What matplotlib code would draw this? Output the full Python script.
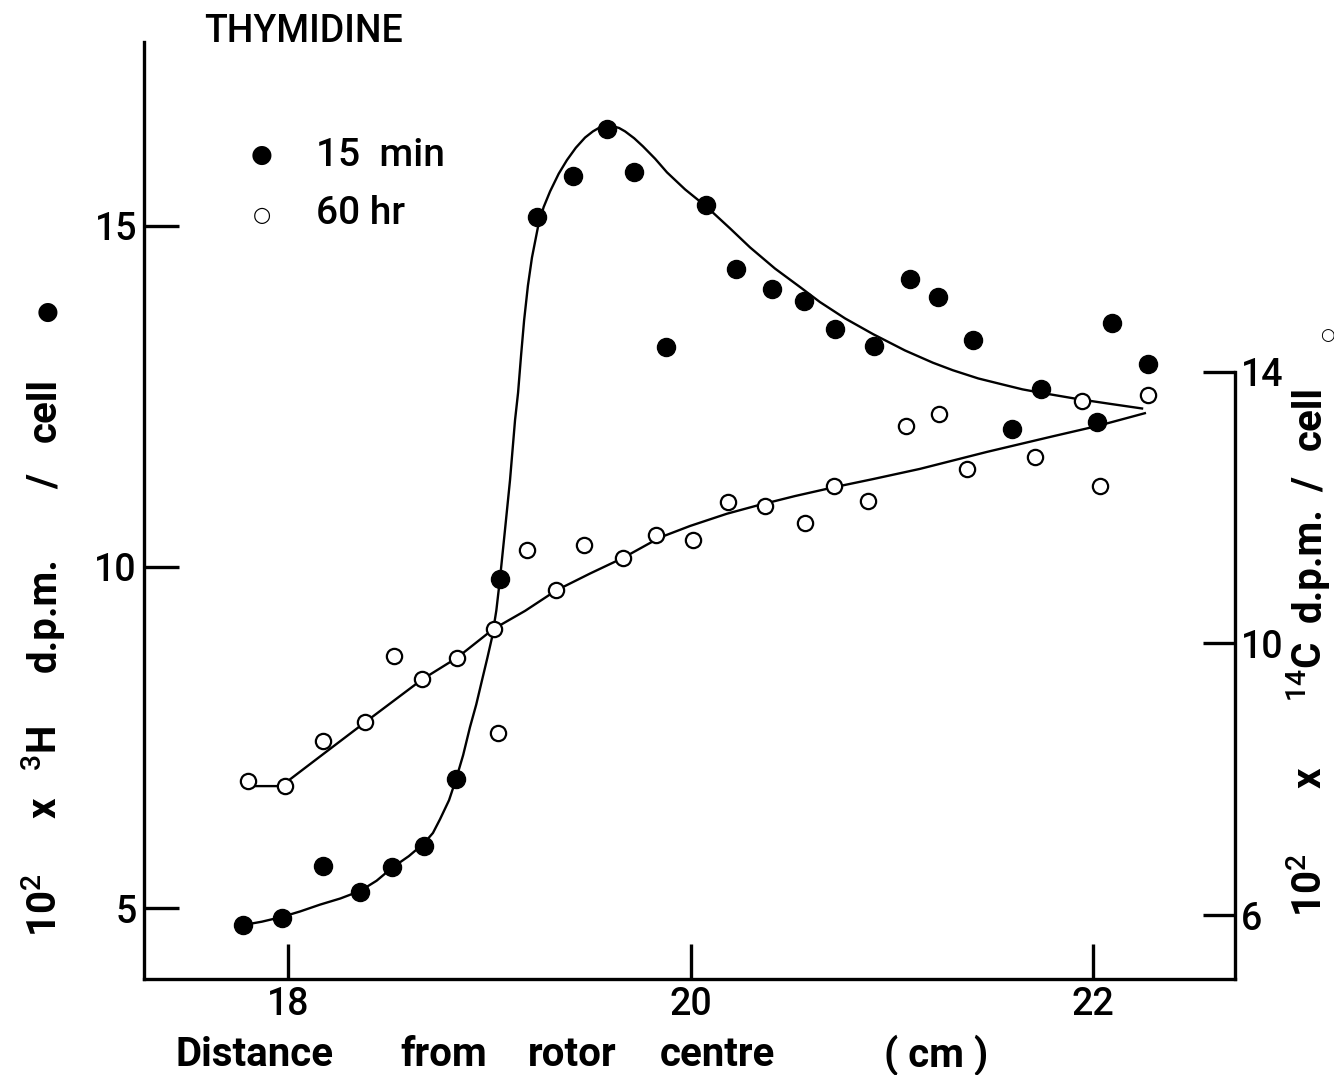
import matplotlib
matplotlib.use("Agg")
import matplotlib.pyplot as plt

plt.rcParams['font.family'] = ['Roboto', 'DejaVu Sans']
plt.rcParams['font.weight'] = 'medium'
plt.rcParams['mathtext.fontset'] = 'custom'
plt.rcParams['mathtext.rm'] = 'Roboto:medium'

# 15 min (3H, left axis), filled circles
dist_15min = [17.776, 17.970, 18.174, 18.358, 18.517, 18.676, 18.835, 19.053,
              19.237, 19.416, 19.585, 19.719, 19.878, 20.077, 20.226, 20.405,
              20.564, 20.718, 20.912, 21.091, 21.230, 21.404, 21.598, 21.742,
              22.020, 22.094, 22.273]
h3_15min = [4.75, 4.86, 5.62, 5.24, 5.60, 5.91, 6.89, 9.82,
            15.12, 15.73, 16.41, 15.78, 13.22, 15.30, 14.36, 14.07,
            13.89, 13.48, 13.23, 14.21, 13.95, 13.32, 12.02, 12.60,
            12.12, 13.57, 12.97]

# 60 hr (14C, right axis), open circles
dist_60hr = [17.801, 17.985, 18.174, 18.383, 18.527, 18.666, 18.840, 19.024,
             19.043, 19.188, 19.332, 19.471, 19.665, 19.829, 20.012, 20.186,
             20.370, 20.569, 20.713, 20.882, 21.071, 21.235, 21.374, 21.712,
             21.945, 22.035, 22.273]
c14_60hr = [7.97, 7.90, 8.56, 8.84, 9.81, 9.47, 9.79, 10.21,
            8.68, 11.38, 10.78, 11.45, 11.26, 11.60, 11.53, 12.09,
            12.03, 11.78, 12.32, 12.10, 13.20, 13.38, 12.57, 12.75,
            13.57, 12.32, 13.66]

# hand-drawn fitted curves
fit15_x = [17.776, 17.870, 17.970, 18.060, 18.159, 18.260, 18.358, 18.440,
           18.517, 18.600, 18.676, 18.720, 18.755, 18.800, 18.835, 18.870,
           18.904, 18.935, 18.964, 18.990, 19.014, 19.035, 19.053, 19.078,
           19.103, 19.128, 19.143, 19.158, 19.173, 19.192, 19.212, 19.242,
           19.270, 19.302, 19.345, 19.386, 19.430, 19.476, 19.515, 19.550,
           19.580, 19.610, 19.645, 19.675, 19.720, 19.764, 19.824, 19.883,
           19.973, 20.082, 20.196, 20.296, 20.420, 20.544, 20.643, 20.768,
           20.907, 21.066, 21.205, 21.304, 21.430, 21.553, 21.650, 21.742,
           21.921, 22.080, 22.244]
fit15_y = [4.75, 4.80, 4.87, 4.95, 5.05, 5.14, 5.25, 5.40,
           5.59, 5.76, 5.95, 6.10, 6.30, 6.58, 6.89, 7.24,
           7.65, 7.98, 8.34, 8.66, 8.97, 9.36, 9.82, 10.54,
           11.27, 12.15, 12.55, 13.10, 13.61, 14.12, 14.53, 14.98,
           15.27, 15.50, 15.76, 15.96, 16.14, 16.29, 16.38, 16.44,
           16.46, 16.46, 16.43, 16.38, 16.28, 16.16, 15.98, 15.78,
           15.53, 15.27, 14.96, 14.68, 14.37, 14.10, 13.88, 13.64,
           13.41, 13.17, 12.99, 12.88, 12.76, 12.67, 12.60, 12.55,
           12.46, 12.39, 12.32]

fit60_x = [17.801, 17.985, 18.010, 18.174, 18.383, 18.666, 18.840, 19.019,
           19.178, 19.332, 19.501, 19.665, 19.848, 19.998, 20.181, 20.330,
           20.519, 20.713, 20.907, 21.140, 21.473, 21.801, 22.020, 22.258]
fit60_y = [7.90, 7.90, 8.00, 8.37, 8.84, 9.47, 9.79, 10.21,
           10.48, 10.78, 11.03, 11.26, 11.56, 11.73, 11.91, 12.03,
           12.17, 12.30, 12.42, 12.57, 12.82, 13.05, 13.20, 13.39]

W, H = 1334, 1075


def fx(px):
    return px / W


def fy(py):
    return 1 - py / H


fig = plt.figure(figsize=(13.34, 10.75), dpi=100)
ax = fig.add_axes([fx(144), fy(979), fx(1235) - fx(144), fy(42) - fy(979)])
ax2 = ax.twinx()

ax.plot(fit15_x, fit15_y, color='black', lw=1.7, zorder=2)
ax.plot(dist_15min, h3_15min, 'o', color='black', ms=13, zorder=3)
ax2.plot(fit60_x, fit60_y, color='black', lw=1.7, zorder=2)
ax2.plot(dist_60hr, c14_60hr, 'o', mfc='white', mec='black', mew=1.6, ms=11,
         zorder=3)

ax.set_xlim(17.284, 22.706)
ax.set_ylim(3.96, 17.69)
ax2.set_ylim(5.06, 18.855)

ax.set_xticks([18, 20, 22])
ax.set_yticks([5, 10, 15])
ax2.set_yticks([6, 10, 14])

for a in (ax, ax2):
    for s in a.spines.values():
        s.set_linewidth(2.4)
    a.spines['top'].set_visible(False)
ax.spines['right'].set_visible(False)
ax2.spines['left'].set_visible(False)
ax2.spines['bottom'].set_visible(False)
ax2.spines['right'].set_bounds(5.06, 14)

ax.tick_params(direction='in', length=25, width=2.4, labelsize=27, pad=5)
ax2.tick_params(direction='in', length=23, width=2.4, labelsize=27, pad=4)

# title and legend
fig.text(fx(204), fy(32), "THYMIDINE", fontsize=27,
         va='center', ha='left')
fig.text(fx(262), fy(155), "\u25CF", fontsize=18, va='center', ha='center',
         family='DejaVu Sans')
fig.text(fx(316), fy(155), "15  min", fontsize=28,
         va='center', ha='left')
fig.text(fx(262), fy(215), "\u25CB", fontsize=15, va='center', ha='center',
         family='DejaVu Sans')
fig.text(fx(316), fy(213), "60 hr", fontsize=28,
         va='center', ha='left')

# x label, words spread out as in the original
for word, xp in [("Distance", 176), ("from", 400), ("rotor", 528),
                 ("centre", 660), ("( cm )", 884)]:
    fig.text(fx(xp), fy(1055), word, fontsize=29, fontweight='bold',
             va='center', ha='left')

# left y label pieces (reading upward)
for txt, yp in [("10$^2$", 905), ("x", 808), ("$^3$H", 748),
                ("d.p.m.", 615), ("/", 482), ("cell", 410)]:
    fig.text(fx(45), fy(yp), txt, fontsize=29, fontweight='bold',
             rotation=90, va='center', ha='center')
fig.text(fx(48), fy(312), "\u25CF", fontsize=18, va='center', ha='center',
         family='DejaVu Sans')

# right y label pieces
for txt, yp in [("10$^2$", 885), ("x", 778), ("$^{14}$C", 672),
                ("d.p.m.", 565), ("/", 485), ("cell", 418)]:
    fig.text(fx(1310), fy(yp), txt, fontsize=29, fontweight='bold',
             rotation=90, va='center', ha='center')
fig.text(fx(1327), fy(335), "\u25CB", fontsize=12, va='center', ha='center',
         family='DejaVu Sans')

fig.savefig("out.png", dpi=100)
